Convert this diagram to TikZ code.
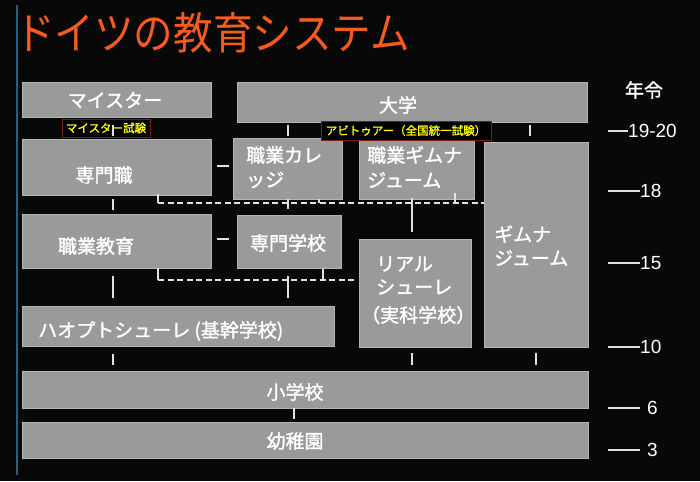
\documentclass[tikz,border=0pt]{standalone}
\usepackage{fontspec}
\setmainfont{Liberation Sans}
\newfontfamily\jp[FakeBold=1.5]{Noto Sans CJK JP}
\newfontfamily\jpl[FakeBold=1.2]{Noto Sans CJK JP}
\newfontfamily\jptitle[FakeStretch=0.9]{Noto Sans CJK JP}
\usetikzlibrary{fit}
\definecolor{bgc}{RGB}{8,8,8}
\definecolor{boxfill}{RGB}{154,154,154}
\definecolor{boxline}{RGB}{180,180,180}
\definecolor{titlec}{RGB}{245,90,30}
\definecolor{examline}{RGB}{120,30,20}
\definecolor{examtext}{RGB}{255,255,0}
\definecolor{sidec}{RGB}{40,95,125}
\definecolor{tickc}{RGB}{225,225,225}
\tikzset{
  gbox/.style={fill=boxfill, draw=boxline, line width=0.9pt, inner sep=0pt},
  ebox/.style={fill=black, draw=examline, line width=0.7pt, inner sep=0pt},
  btxt/.style={text=white, font=\jp\fontsize{19}{19}\selectfont, inner sep=0pt},
  etxt/.style={text=examtext, font=\jpl\fontsize{11.5}{12}\selectfont, inner sep=0pt},
  agetxt/.style={text=white, font=\fontsize{19}{19}\selectfont, inner sep=0pt, anchor=west},
  tickl/.style={draw=tickc, line width=1.5pt},
  agel/.style={draw=tickc, line width=1.2pt},
  dashl/.style={draw=tickc, line width=1.2pt, dash pattern=on 6pt off 3.5pt},
  cornl/.style={draw=tickc, line width=1.2pt}
}
\begin{document}
\begin{tikzpicture}[x=1pt, y=-1pt]
\useasboundingbox (0,0) rectangle (700,481);
\fill[bgc] (0,0) rectangle (700,481);
\draw[sidec, line width=1.5pt] (17,5) -- (17,475);

% title
\node[anchor=west, inner sep=0pt, text=titlec, font=\jptitle\fontsize{44}{44}\selectfont] (title) at (15,33) {ドイツの教育システム};

% boxes
\node[gbox, fit={(22,82) (211,117)}] (meister) {};
\node[gbox, fit={(237,82) (587,122)}] (daigaku) {};
\node[gbox, fit={(22,139) (211,195)}] (senmonshoku) {};
\node[gbox, fit={(233,138) (342,199)}] (college) {};
\node[gbox, fit={(359,139) (474,199)}] (vgym) {};
\node[gbox, fit={(484,142) (588,347)}] (gym) {};
\node[gbox, fit={(22,214) (211,268)}] (shokugyo) {};
\node[gbox, fit={(237,215) (341,268)}] (senmongakko) {};
\node[gbox, fit={(359,239) (471,347)}] (real) {};
\node[gbox, fit={(22,306) (334,346)}] (haupt) {};
\node[gbox, fit={(22,371) (588,408)}] (grund) {};
\node[gbox, fit={(22,422) (588,458)}] (kinder) {};

% exam labels
\node[ebox, fit={(62,119) (150,137)}] (mexam) {};
\node[etxt] (tmexam) at (mexam.center) {マイスター試験};
\node[ebox, fit={(321,121) (491,140)}] (abitur) {};
\node[etxt] (tabitur) at (abitur.center) {アビトゥアー（全国統一試験）};

% box texts
\node[btxt] (tmeister) at (115,100) {マイスター};
\node[btxt] (tdaigaku) at (398,105) {大学};
\node[btxt] (tsenmonshoku) at (104,175) {専門職};
\node[btxt, anchor=west] (tcollege1) at (246,155) {職業カレ};
\node[btxt, anchor=west] (tcollege2) at (246,180) {ッジ};
\node[btxt, anchor=west] (tvgym1) at (367,155) {職業ギムナ};
\node[btxt, anchor=west] (tvgym2) at (367,180) {ジューム};
\node[btxt, anchor=west] (tgym1) at (494,234) {ギムナ};
\node[btxt, anchor=west] (tgym2) at (494,258) {ジューム};
\node[btxt] (tshokugyo) at (96,246) {職業教育};
\node[btxt] (tsenmongakko) at (288,243) {専門学校};
\node[btxt, anchor=west] (treal1) at (376,264) {リアル};
\node[btxt, anchor=west] (treal2) at (376,287) {シューレ};
\node[btxt, anchor=west] (treal3) at (361,315) {（実科学校）};
\node[btxt, anchor=west] (thaupt) at (38,331) {ハオプトシューレ (基幹学校)};
\node[btxt] (tgrund) at (295,392) {小学校};
\node[btxt] (tkinder) at (295,441) {幼稚園};

% ticks
\draw[tickl] (113,125) -- (113,136);
\draw[tickl] (288,125) -- (288,136);
\draw[tickl] (530,125) -- (530,136);
\draw[tickl] (217,166) -- (229,166);
\draw[tickl] (113,199) -- (113,210);
\draw[tickl] (288,199) -- (288,209);
\draw[cornl] (158,194) -- (158,203);
\draw[dashl] (158,203) -- (gym.west |- 0,203);
\draw[cornl] (319,199) -- (319,203);
\draw[cornl] (455,193) -- (455,203);
\draw[cornl] (412,198) -- (412,232);
\draw[tickl] (217,239) -- (229,239);
\draw[cornl] (158,268) -- (158,280);
\draw[dashl] (158,280) -- (354,280);
\draw[cornl] (323,269) -- (323,280);
\draw[tickl] (288,276) -- (288,298);
\draw[tickl] (113,276) -- (113,298);
\draw[tickl] (113,354) -- (113,365);
\draw[tickl] (412,353) -- (412,365);
\draw[tickl] (536,353) -- (536,365);
\draw[tickl] (294,408) -- (294,419);

% age scale
\node[text=white, font=\jp\fontsize{19}{19}\selectfont, inner sep=0pt] (nenrei) at (644,90) {年令};
\coordinate (a1) at (608,131); \coordinate (a1e) at (628,131);
\draw[agel] (a1) -- (a1e);
\node[agetxt] (age1) at (a1e) {19-20};
\coordinate (a2) at (608,191); \coordinate (a2e) at (640,191);
\draw[agel] (a2) -- (a2e);
\node[agetxt] (age2) at (a2e) {18};
\coordinate (a3) at (608,263); \coordinate (a3e) at (640,263);
\draw[agel] (a3) -- (a3e);
\node[agetxt] (age3) at (a3e) {15};
\coordinate (a4) at (608,347); \coordinate (a4e) at (640,347);
\draw[agel] (a4) -- (a4e);
\node[agetxt] (age4) at (a4e) {10};
\coordinate (a5) at (608,408); \coordinate (a5e) at (640,408);
\draw[agel] (a5) -- (a5e);
\node[agetxt] (age5) at (647,408) {6};
\coordinate (a6) at (608,450); \coordinate (a6e) at (640,450);
\draw[agel] (a6) -- (a6e);
\node[agetxt] (age6) at (647,450) {3};
\end{tikzpicture}
\end{document}
